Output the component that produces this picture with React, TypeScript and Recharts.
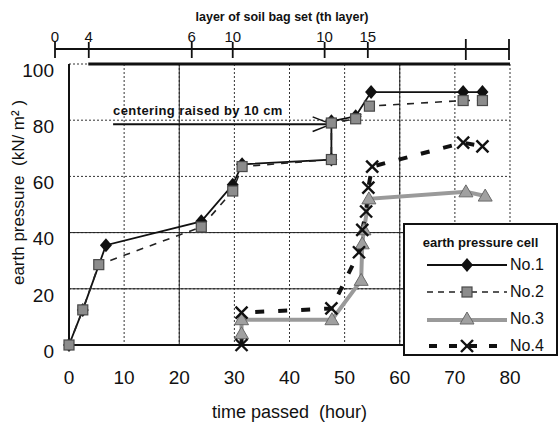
import React from "react";
import {
  LineChart,
  Line,
  XAxis,
  YAxis,
  CartesianGrid,
  ReferenceLine,
  Legend,
} from "recharts";

const FONT = '"Liberation Sans", Arial, sans-serif';

// axes
const timeTicks = [0, 10, 20, 30, 40, 50, 60, 70, 80];
const pressureTicks = [0, 20, 40, 60, 80, 100];

// top scale: soil bag layers
const layerTimes = [0, 6.1, 24.7, 32.1, 48.7, 56.5, 74.2, 82];
const layerLabels = ["0", "4", "6", "10", "10", "15", "", ""];

// earth pressure cells
const seriesNames = ["No.1", "No.2", "No.3", "No.4"];

const time1 = [0, 2.5, 6.7, 24, 29.7, 31.4, 47.6, 47.6, 52, 54.8, 71.5, 75];
const press1 = [0, 12.5, 35.5, 44, 57, 64.3, 66, 79.6, 81.4, 90, 90, 90];

const time2 = [0, 2.5, 5.4, 24, 29.7, 31.4, 47.6, 47.6, 52, 54.5, 71.5, 75];
const press2 = [0, 12.5, 28.6, 42, 54.8, 63.5, 66, 79, 80.5, 85, 87, 87];

const time3 = [31.3, 31.3, 47.7, 53, 53.2, 53.5, 54.4, 72, 75.5];
const press3 = [4, 9, 9, 23, 36, 41, 52, 54.5, 53];

const time4 = [31.3, 31.3, 47.6, 52.6, 53.2, 53.9, 54.3, 55, 71.5, 75];
const press4 = [0, 11.5, 13, 33, 41, 47.5, 56, 63.5, 72, 70.7];

// annotation
const noteText = "centering raised by 10 cm";
const noteStart = 8;
const noteEnd = 47.6;
const noteLevel = 78.6;

const solidGridX = [20, 60];
const solidGridY = [20, 40];

const toPoints = (ts: number[], vs: number[]) =>
  ts.map((t, i) => ({ t, v: vs[i] }));

const s1 = toPoints(time1, press1);
const s2 = toPoints(time2, press2);
const s3 = toPoints(time3, press3);
const s4 = toPoints(time4, press4);
const layerPoints = layerTimes.map((t) => ({ t }));

const diamondDot = (p: any) => {
  const { cx, cy, index } = p;
  if (cx == null || cy == null) return <g key={`d1-${index}`} />;
  return (
    <path
      key={`d1-${index}`}
      d={`M${cx},${cy - 7}L${cx + 6},${cy}L${cx},${cy + 7}L${cx - 6},${cy}Z`}
      fill="#111"
    />
  );
};

const squareDot = (p: any) => {
  const { cx, cy, index } = p;
  if (cx == null || cy == null) return <g key={`d2-${index}`} />;
  return (
    <rect
      key={`d2-${index}`}
      x={cx - 5}
      y={cy - 5}
      width={10}
      height={10}
      fill="#8c8c8c"
      stroke="#4a4a4a"
      strokeWidth={1.2}
    />
  );
};

const triangleDot = (p: any) => {
  const { cx, cy, index } = p;
  if (cx == null || cy == null) return <g key={`d3-${index}`} />;
  return (
    <path
      key={`d3-${index}`}
      d={`M${cx},${cy - 7}L${cx + 7},${cy + 5}L${cx - 7},${cy + 5}Z`}
      fill="#a0a0a0"
      stroke="#6a6a6a"
      strokeWidth={1}
    />
  );
};

const crossDot = (p: any) => {
  const { cx, cy, index } = p;
  if (cx == null || cy == null) return <g key={`d4-${index}`} />;
  return (
    <g key={`d4-${index}`} stroke="#111" strokeWidth={2.4}>
      <line x1={cx - 6} y1={cy - 6} x2={cx + 6} y2={cy + 6} />
      <line x1={cx - 6} y1={cy + 6} x2={cx + 6} y2={cy - 6} />
    </g>
  );
};

const LayerTick = (props: any) => {
  const { x, y, payload } = props;
  const i = layerTimes.indexOf(payload.value);
  const label = layerLabels[i] ?? "";
  const long = label === "";
  return (
    <g>
      <line
        x1={x}
        x2={x}
        y1={y - (long ? 10 : 7)}
        y2={y + (long ? 11 : 9)}
        stroke="#111"
        strokeWidth={1.8}
      />
      <text
        x={x}
        y={y - 7}
        textAnchor="middle"
        fontSize={15}
        fontFamily={FONT}
        fill="#111"
      >
        {label}
      </text>
    </g>
  );
};

const layerTitle = (props: any) => {
  const vb = props.viewBox || { x: 55, y: 0, width: 454 };
  return (
    <text
      x={vb.x + vb.width / 2}
      y={21}
      textAnchor="middle"
      fontSize={12.5}
      fontWeight={700}
      fontFamily={FONT}
      fill="#111"
    >
      layer of soil bag set (th layer)
    </text>
  );
};

const pressureTitle = (props: any) => {
  const vb = props.viewBox || { x: 0, y: 64, width: 69, height: 281 };
  const cx = 18;
  const cy = vb.y + vb.height / 2 - 12;
  return (
    <text
      x={cx}
      y={cy}
      transform={`rotate(-90 ${cx} ${cy})`}
      textAnchor="middle"
      dominantBaseline="central"
      fontSize={17}
      fontFamily={FONT}
      fill="#111"
    >
      {"earth pressure\u00a0\u00a0(kN/ m²\u00a0)"}
    </text>
  );
};

const noteLabel = (props: any) => {
  const vb = props.viewBox || { x: 113, y: 125 };
  return (
    <text
      x={vb.x}
      y={vb.y - 9}
      fontSize={13}
      fontWeight={700}
      letterSpacing={0.4}
      fontFamily={FONT}
      fill="#111"
    >
      {noteText}
    </text>
  );
};

const legendSwatch = (i: number) => {
  const w = 80;
  const m = 40;
  if (i === 0)
    return (
      <svg width={w} height={20}>
        <line x1={0} x2={w} y1={10} y2={10} stroke="#111" strokeWidth={1.8} />
        {diamondDot({ cx: m, cy: 10, index: 0 })}
      </svg>
    );
  if (i === 1)
    return (
      <svg width={w} height={20}>
        <line
          x1={0}
          x2={w}
          y1={10}
          y2={10}
          stroke="#222"
          strokeWidth={1.5}
          strokeDasharray="6 5"
        />
        {squareDot({ cx: m, cy: 10, index: 0 })}
      </svg>
    );
  if (i === 2)
    return (
      <svg width={w} height={20}>
        <line x1={0} x2={w} y1={11} y2={11} stroke="#9a9a9a" strokeWidth={4} />
        {triangleDot({ cx: m, cy: 10, index: 0 })}
      </svg>
    );
  return (
    <svg width={w} height={20}>
      <line
        x1={0}
        x2={w}
        y1={10}
        y2={10}
        stroke="#111"
        strokeWidth={4}
        strokeDasharray="8 12"
        strokeDashoffset={-2}
      />
      {crossDot({ cx: m, cy: 10, index: 0 })}
    </svg>
  );
};

const renderLegend = () => (
  <div
    style={{
      position: "relative",
      boxSizing: "border-box",
      width: 155,
      height: 133,
      border: "2.5px solid #111",
      background: "#fff",
      fontFamily: FONT,
      color: "#111",
    }}
  >
    <div
      style={{
        position: "absolute",
        left: 0,
        right: 0,
        top: 10,
        textAlign: "center",
        fontWeight: 700,
        fontSize: 13,
        whiteSpace: "nowrap",
      }}
    >
      earth pressure cell
    </div>
    {seriesNames.map((name, i) => (
      <div
        key={name}
        style={{
          position: "absolute",
          left: 22,
          top: 30 + i * 27,
          height: 20,
          display: "flex",
          alignItems: "center",
        }}
      >
        {legendSwatch(i)}
        <span style={{ fontSize: 16, marginLeft: 3 }}>{name}</span>
      </div>
    ))}
  </div>
);

const App: React.FC = () => {
  return (
    <div style={{ position: "absolute", left: 0, top: 0, width: 560, height: 427 }}>
      <div style={{ position: "absolute", left: 0, top: 0 }}>
        <LineChart
          width={560}
          height={427}
          margin={{ top: 64, right: 50, bottom: 2, left: 0 }}
        >
          <CartesianGrid stroke="#333" strokeDasharray="2 2" />
          {solidGridX.map((x) => (
            <ReferenceLine key={`gx${x}`} x={x} stroke="#222" strokeWidth={1} />
          ))}
          {solidGridY.map((y) => (
            <ReferenceLine key={`gy${y}`} y={y} stroke="#222" strokeWidth={1} />
          ))}
          <XAxis
            dataKey="t"
            type="number"
            domain={[0, 80]}
            ticks={timeTicks}
            interval={0}
            height={80}
            tickLine={false}
            tickSize={0}
            tickMargin={26}
            axisLine={{ stroke: "#111", strokeWidth: 2 }}
            tick={{ fontSize: 19, fill: "#111", fontFamily: FONT }}
            label={{
              value: "time passed\u00a0\u00a0(hour)",
              position: "insideBottom",
              offset: 7,
              fontSize: 18,
              fill: "#111",
              fontFamily: FONT,
            }}
          />
          <YAxis
            dataKey="v"
            type="number"
            domain={[0, 100]}
            ticks={pressureTicks}
            interval={0}
            width={69}
            tickLine={false}
            tickSize={0}
            tickMargin={15}
            axisLine={{ stroke: "#111", strokeWidth: 2 }}
            tick={{ fontSize: 19, fill: "#111", fontFamily: FONT, dy: 6 }}
            label={{ content: pressureTitle }}
          />
          <ReferenceLine
            segment={[
              { x: 3.5, y: 100 },
              { x: 80, y: 100 },
            ]}
            stroke="#111"
            strokeWidth={3}
          />
          <ReferenceLine
            segment={[
              { x: noteStart, y: noteLevel },
              { x: noteEnd, y: noteLevel },
            ]}
            stroke="#111"
            strokeWidth={2}
            label={{ content: noteLabel }}
          />
          <ReferenceLine
            segment={[
              { x: noteEnd - 3.4, y: noteLevel + 2.6 },
              { x: noteEnd, y: noteLevel },
            ]}
            stroke="#111"
            strokeWidth={1.5}
          />
          <ReferenceLine
            segment={[
              { x: noteEnd - 3.4, y: noteLevel - 2.6 },
              { x: noteEnd, y: noteLevel },
            ]}
            stroke="#111"
            strokeWidth={1.5}
          />
          <Line
            name={seriesNames[0]}
            data={s1}
            dataKey="v"
            type="linear"
            stroke="#111"
            strokeWidth={1.8}
            dot={diamondDot}
            activeDot={false}
            isAnimationActive={false}
          />
          <Line
            name={seriesNames[1]}
            data={s2}
            dataKey="v"
            type="linear"
            stroke="#222"
            strokeWidth={1.6}
            strokeDasharray="7 7"
            dot={squareDot}
            activeDot={false}
            isAnimationActive={false}
          />
          <Line
            name={seriesNames[2]}
            data={s3}
            dataKey="v"
            type="linear"
            stroke="#9a9a9a"
            strokeWidth={4}
            dot={triangleDot}
            activeDot={false}
            isAnimationActive={false}
          />
          <Line
            name={seriesNames[3]}
            data={s4}
            dataKey="v"
            type="linear"
            stroke="#111"
            strokeWidth={4}
            strokeDasharray="9 14"
            dot={crossDot}
            activeDot={false}
            isAnimationActive={false}
          />
          <Legend
            layout="horizontal"
            verticalAlign="middle"
            align="center"
            wrapperStyle={{ left: 403, top: 223, width: 155, height: 133 }}
            content={renderLegend}
          />
        </LineChart>
      </div>
      <div style={{ position: "absolute", left: 0, top: 0 }}>
        <LineChart
          width={560}
          height={62}
          data={layerPoints}
          margin={{ top: 0, right: 51, bottom: 0, left: 55 }}
        >
          <XAxis
            dataKey="t"
            type="number"
            orientation="top"
            domain={[0, 82]}
            ticks={layerTimes}
            interval={0}
            height={49}
            tickSize={0}
            tickMargin={0}
            tickLine={false}
            axisLine={{ stroke: "#111", strokeWidth: 1.8 }}
            tick={LayerTick}
            label={{ content: layerTitle }}
          />
        </LineChart>
      </div>
    </div>
  );
};

export default App;
